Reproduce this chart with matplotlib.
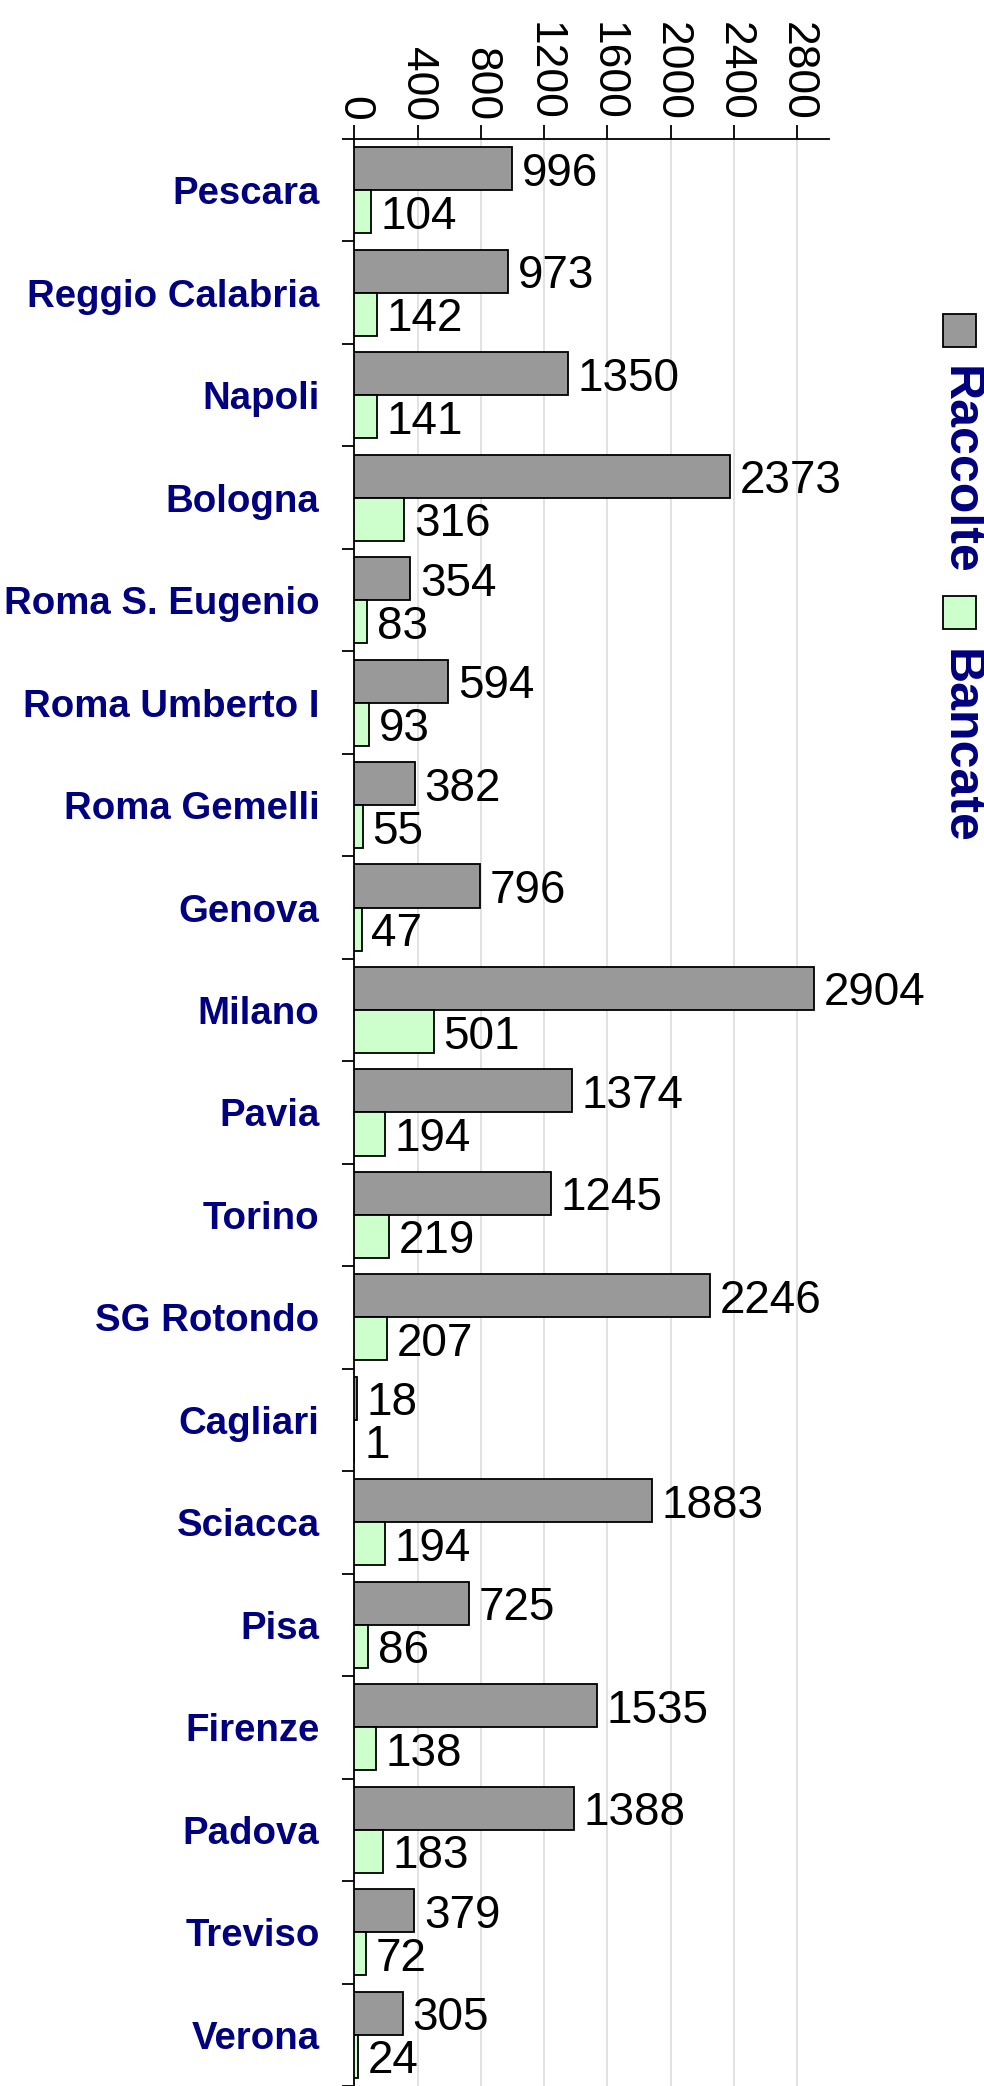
import numpy as np
import matplotlib
matplotlib.use('Agg')
import matplotlib.pyplot as plt
from matplotlib.patches import Rectangle

matplotlib.rcParams['font.family'] = ['Liberation Sans', 'DejaVu Sans']

# dati
cities = ['Pescara', 'Reggio Calabria', 'Napoli', 'Bologna', 'Roma S. Eugenio',
          'Roma Umberto I', 'Roma Gemelli', 'Genova', 'Milano', 'Pavia', 'Torino',
          'SG Rotondo', 'Cagliari', 'Sciacca', 'Pisa', 'Firenze', 'Padova',
          'Treviso', 'Verona']
raccolte = [996, 973, 1350, 2373, 354, 594, 382, 796, 2904, 1374, 1245,
            2246, 18, 1883, 725, 1535, 1388, 379, 305]
bancate = [104, 142, 141, 316, 83, 93, 55, 47, 501, 194, 219,
           207, 1, 194, 86, 138, 183, 72, 24]
x_ticks = [0, 400, 800, 1200, 1600, 2000, 2400, 2800]

NAVY = '#000080'
GRAY = '#999999'
GREEN = '#ccffcc'

fig = plt.figure(figsize=(9.84, 20.86), dpi=100)
ax = fig.add_axes([0.36, 0.0, 0.4825, 0.9334])

y = np.arange(len(cities))
h = 0.42
ax.barh(y - h / 2, raccolte, height=h, color=GRAY, edgecolor='black', linewidth=1.3, zorder=3)
ax.barh(y + h / 2, bancate, height=h, color=GREEN, edgecolor='black', linewidth=1.3, zorder=3)

for i in range(len(cities)):
    ax.annotate(str(raccolte[i]), (raccolte[i], y[i] - h / 2), xytext=(7, 0),
                textcoords='offset points', va='center_baseline', ha='left', fontsize=33)
    ax.annotate(str(bancate[i]), (bancate[i], y[i] + h / 2), xytext=(7, 0),
                textcoords='offset points', va='center_baseline', ha='left', fontsize=33)

ax.set_xlim(0, 3000)
ax.set_ylim(len(cities) - 0.5, -0.5)

# asse x in alto
ax.xaxis.tick_top()
ax.set_xticks(x_ticks)
ax.set_xticklabels([str(t) for t in x_ticks], rotation=-90, fontsize=32)
ax.tick_params(axis='x', length=10, width=1.3, pad=3)
ax.grid(axis='x', color='#dddddd', linewidth=1.2, zorder=0)

# categorie
ax.set_yticks(np.arange(len(cities) + 1) - 0.5)
ax.set_yticklabels([])
ax.tick_params(axis='y', which='major', length=9, width=1.3)
ax.set_yticks(y, minor=True)
ax.set_yticklabels(cities, minor=True, fontsize=27.6, fontweight='bold', color=NAVY)
ax.tick_params(axis='y', which='minor', length=0, pad=25)

for s in ['right', 'bottom']:
    ax.spines[s].set_visible(False)
ax.spines['top'].set_linewidth(1.3)
ax.spines['left'].set_linewidth(1.3)

# legenda verticale
fig.patches.append(Rectangle((943 / 984, 1 - 347 / 2086), 33 / 984, 33 / 2086,
                             transform=fig.transFigure, facecolor=GRAY,
                             edgecolor='black', linewidth=1.3))
fig.text(960 / 984, 1 - 366 / 2086, 'Raccolte', rotation=-90, ha='center', va='top',
         fontsize=36, fontweight='bold', color=NAVY)
fig.patches.append(Rectangle((943 / 984, 1 - 629 / 2086), 33 / 984, 33 / 2086,
                             transform=fig.transFigure, facecolor=GREEN,
                             edgecolor='black', linewidth=1.3))
fig.text(960 / 984, 1 - 649 / 2086, 'Bancate', rotation=-90, ha='center', va='top',
         fontsize=36, fontweight='bold', color=NAVY)

fig.savefig('out.png', dpi=100)
